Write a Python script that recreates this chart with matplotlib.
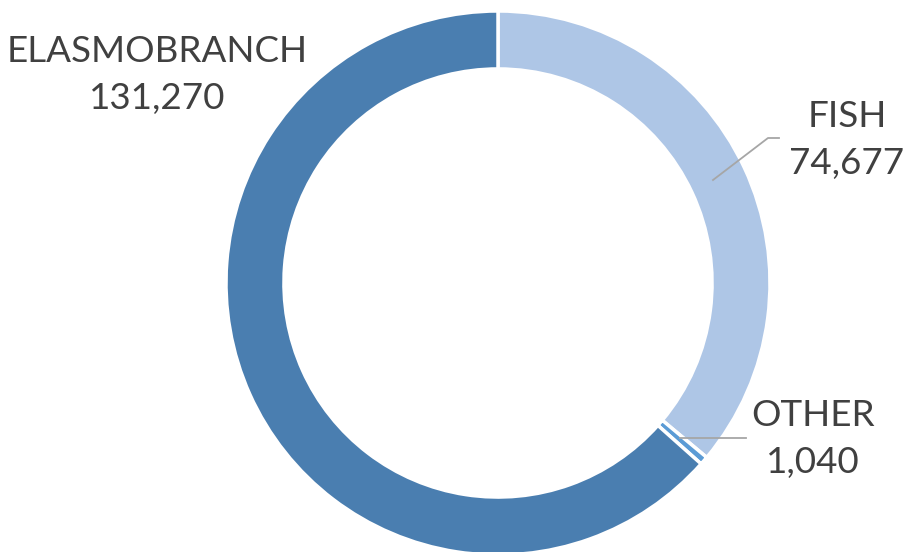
import matplotlib.pyplot as plt

categories = ["FISH", "OTHER", "ELASMOBRANCH"]
values = [74677, 1040, 131270]
colors = ["#AEC6E6", "#5B9BD5", "#4A7EB0"]

W, H = 910, 552
cx, cy, r = 498, 283, 272


def to_data(px, py):
    return (px - cx) / r, (cy - py) / r


fig = plt.figure(figsize=(W / 100, H / 100), dpi=100)
ax = fig.add_axes([(cx - r) / W, (H - cy - r) / H, 2 * r / W, 2 * r / H])

ax.pie(values, colors=colors, startangle=90, counterclock=False, radius=1,
       wedgeprops=dict(width=0.213, edgecolor="white", linewidth=2.5))
ax.set_xlim(-1, 1)
ax.set_ylim(-1, 1)
ax.set_aspect("equal")
ax.axis("off")

font = dict(family=["Lato", "DejaVu Sans"], fontsize=26.5, color="#404040",
            ha="center", va="center", linespacing=1.55)
labels = [f"{c}\n{v:,}" for c, v in zip(categories, values)]
positions = [(847, 140), (813, 439), (157, 75)]
for lab, (px, py) in zip(labels, positions):
    ax.text(*to_data(px, py), lab, clip_on=False, **font)

# leader lines
fish_line = [to_data(*p) for p in [(713, 180), (768, 138), (779, 138)]]
other_line = [to_data(*p) for p in [(680, 438), (746, 438)]]
for pts in (fish_line, other_line):
    xs, ys = zip(*pts)
    ax.plot(xs, ys, color="#A6A6A6", lw=1.3, clip_on=False)

fig.savefig("out.png", dpi=100, facecolor="white")
